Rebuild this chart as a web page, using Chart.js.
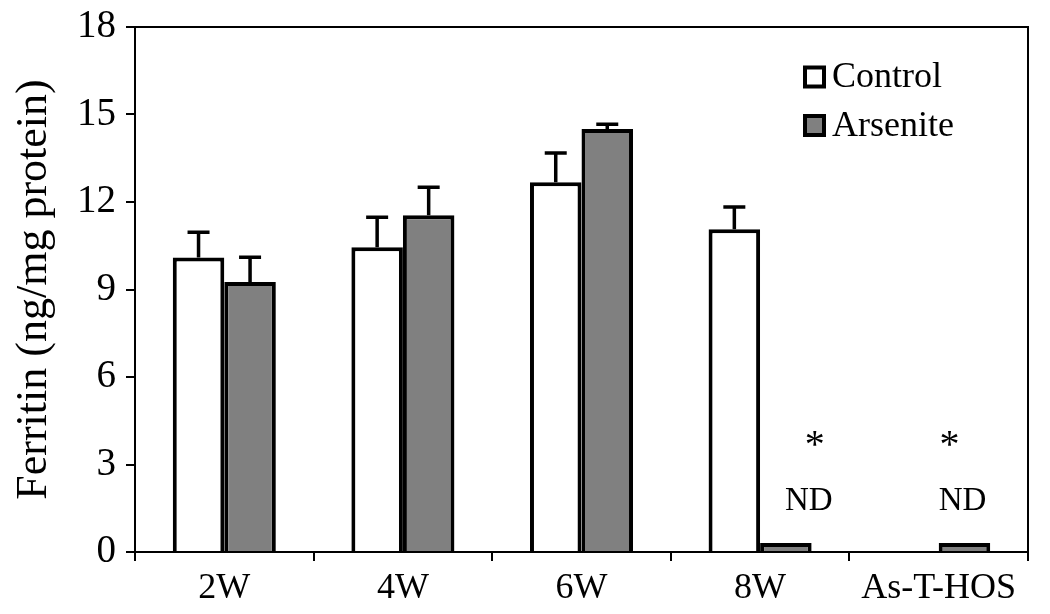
<!DOCTYPE html>
<html>
<head>
<meta charset="utf-8">
<script src="https://cdn.jsdelivr.net/npm/chart.js@4.4.0/dist/chart.umd.min.js"></script>
<style>
html,body{margin:0;padding:0;background:#fff;}
#wrap{width:1050px;height:614px;}
</style>
</head>
<body>
<div id="wrap"><canvas id="c" width="1050" height="614"></canvas></div>
<script>
const categories = ["2W", "4W", "6W", "8W", "As-T-HOS"];
const controlValues = [10.1, 10.45, 12.68, 11.07, null];
const controlErrors = [0.86, 1.03, 1.0, 0.76, null];
const arseniteValues = [9.26, 11.55, 14.5, 0.31, 0.31];
const arseniteErrors = [0.85, 0.96, 0.17, null, null];
const yTicks = [0, 3, 6, 9, 12, 15, 18];
const ndCategories = ["8W", "As-T-HOS"];
const starValue = 3.9;
const ndValue = 1.75;

const FONT = "'Liberation Serif', 'Times New Roman', serif";
// horizontal nudges (px) of the annotation texts relative to the Arsenite bar
const ndShift = [23, -2];
const starShift = [29, -15];

const errorBars = {
  id: 'errorBars',
  afterDatasetsDraw(chart) {
    const ctx = chart.ctx;
    const y = chart.scales.y;
    const errs = [controlErrors, arseniteErrors];
    ctx.save();
    ctx.strokeStyle = '#000';
    ctx.lineWidth = 3.5;
    ctx.lineCap = 'butt';
    chart.data.datasets.forEach((ds, di) => {
      const meta = chart.getDatasetMeta(di);
      meta.data.forEach((bar, i) => {
        const v = ds.data[i], e = errs[di][i];
        if (v == null || e == null) return;
        const x = bar.x;
        const y0 = y.getPixelForValue(v);
        const y1 = y.getPixelForValue(v + e);
        ctx.beginPath();
        ctx.moveTo(x, y0); ctx.lineTo(x, y1);
        ctx.moveTo(x - 11, y1); ctx.lineTo(x + 11, y1);
        ctx.stroke();
      });
    });
    // annotations
    ctx.fillStyle = '#000';
    ctx.textAlign = 'center';
    ctx.textBaseline = 'middle';
    const meta1 = chart.getDatasetMeta(1);
    ndCategories.forEach((cat, k) => {
      const i = categories.indexOf(cat);
      const x = meta1.data[i].x;
      ctx.font = "40px " + FONT;
      ctx.fillText('*', x + starShift[k], y.getPixelForValue(starValue) + 8);
      ctx.font = "33px " + FONT;
      ctx.fillText('ND', x + ndShift[k], y.getPixelForValue(ndValue));
    });
    // frame
    const a = chart.chartArea;
    ctx.lineWidth = 2;
    ctx.beginPath();
    ctx.moveTo(a.left, a.top); ctx.lineTo(a.right, a.top); ctx.lineTo(a.right, a.bottom);
    ctx.stroke();
    // legend
    const lx = a.left + 670, ly = a.top + 50;
    chart.data.datasets.forEach((ds, di) => {
      const yy = ly + di * 48.5;
      ctx.fillStyle = ds.backgroundColor;
      ctx.fillRect(lx, yy - 9.5, 19, 19);
      ctx.strokeStyle = '#000';
      ctx.lineWidth = 4;
      ctx.strokeRect(lx, yy - 9.5, 19, 19);
      ctx.fillStyle = '#000';
      ctx.textAlign = 'left';
      ctx.font = "36px " + FONT;
      ctx.fillText(ds.label, lx + 27, yy + 1);
    });
    ctx.restore();
  }
};

new Chart(document.getElementById('c'), {
  type: 'bar',
  data: {
    labels: categories,
    datasets: [
      { label: 'Control', data: controlValues, backgroundColor: '#ffffff', borderColor: '#000', borderWidth: 4 },
      { label: 'Arsenite', data: arseniteValues, backgroundColor: '#808080', borderColor: '#000', borderWidth: 4 }
    ]
  },
  options: {
    responsive: false,
    animation: false,
    devicePixelRatio: 1,
    layout: { padding: { top: 27, right: 22, left: 0, bottom: 0 } },
    datasets: { bar: { categoryPercentage: 0.577, barPercentage: 1.0 } },
    plugins: { legend: { display: false }, tooltip: { enabled: false } },
    scales: {
      x: {
        grid: { display: true, drawOnChartArea: false, offset: true, tickLength: 9, color: '#000', lineWidth: 2 },
        border: { color: '#000', width: 2 },
        ticks: { color: '#000', font: { family: FONT, size: 36 }, padding: 6 },
        afterFit(s) { s.height = 614 - 552; s.paddingLeft = 0; s.paddingRight = 0; }
      },
      y: {
        min: 0, max: 18,
        afterBuildTicks(s) { s.ticks = yTicks.map(v => ({ value: v })); },
        grid: { display: true, drawOnChartArea: false, tickLength: 9, color: '#000', lineWidth: 2 },
        border: { color: '#000', width: 2 },
        ticks: { color: '#000', font: { family: FONT, size: 39 }, padding: 10 },
        title: { display: true, text: 'Ferritin (ng/mg protein)', color: '#000', font: { family: FONT, size: 44 }, padding: { top: 8, bottom: 0 } },
        afterFit(s) { s.width = 135; s.paddingTop = 0; s.paddingBottom = 0; }
      }
    }
  },
  plugins: [errorBars]
});
</script>
</body>
</html>
